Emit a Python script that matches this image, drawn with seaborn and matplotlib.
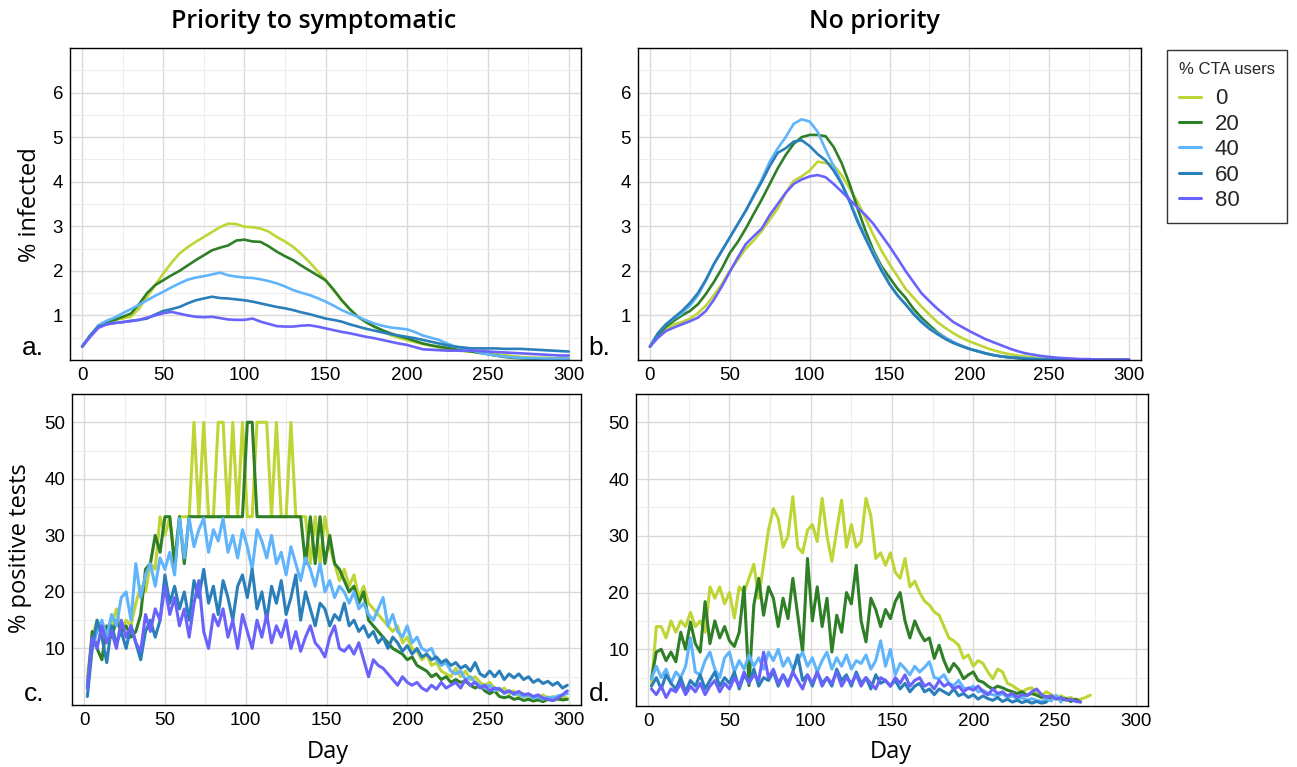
import matplotlib

matplotlib.use("Agg")
import matplotlib.pyplot as plt
import numpy as np
import pandas as pd
import seaborn as sns
from matplotlib.lines import Line2D
from matplotlib.ticker import FixedLocator, MultipleLocator

nan = np.nan

users = ["0", "20", "40", "60", "80"]
colors = ["#bfd435", "#2f7f26", "#5fb4fb", "#2a7fbb", "#6a63fb"]

# days for the % infected panels (every 5 days) and the % positive panels (every 3 days)
top_days = list(range(0, 301, 5))
bottom_days = list(range(2, 300, 3))

# a. priority to symptomatic, % infected
tl_0 = [0.3, 0.55, 0.75, 0.85, 0.9, 0.93, 0.97, 1.15, 1.42, 1.68, 1.94, 2.18, 2.39, 2.53, 2.65, 2.76,
        2.87, 2.98, 3.06, 3.05, 2.99, 2.98, 2.95, 2.88, 2.76, 2.66, 2.54, 2.38, 2.2, 2.0, 1.79,
        1.56, 1.34, 1.14, 0.97, 0.85, 0.75, 0.65, 0.56, 0.5, 0.45, 0.4, 0.36, 0.32, 0.28, 0.25,
        0.22, 0.2, 0.19, 0.17, 0.15, 0.13, 0.11, 0.09, 0.07, 0.06, 0.05, 0.05, 0.04, 0.04, 0.04]
tl_20 = [0.3, 0.55, 0.75, 0.85, 0.9, 0.97, 1.04, 1.25, 1.5, 1.68, 1.79, 1.9, 2.0, 2.12, 2.24, 2.35,
         2.46, 2.52, 2.57, 2.68, 2.7, 2.66, 2.65, 2.55, 2.43, 2.33, 2.24, 2.12, 2.01, 1.9, 1.79,
         1.58, 1.34, 1.14, 0.97, 0.85, 0.75, 0.67, 0.6, 0.54, 0.49, 0.43, 0.37, 0.33, 0.3, 0.27,
         0.24, 0.21, 0.19, 0.16, 0.13, 0.1, 0.07, 0.05, 0.04, 0.03, 0.02, 0.02, 0.02, 0.02, 0.02]
tl_40 = [0.3, 0.55, 0.78, 0.88, 0.95, 1.05, 1.14, 1.24, 1.34, 1.44, 1.53, 1.63, 1.72, 1.8, 1.85, 1.88,
         1.92, 1.96, 1.9, 1.87, 1.85, 1.84, 1.81, 1.77, 1.72, 1.65, 1.57, 1.51, 1.46, 1.39, 1.31,
         1.22, 1.12, 1.04, 0.97, 0.89, 0.82, 0.77, 0.73, 0.71, 0.69, 0.63, 0.55, 0.5, 0.45, 0.37,
         0.3, 0.26, 0.22, 0.17, 0.13, 0.1, 0.08, 0.06, 0.05, 0.04, 0.04, 0.03, 0.03, 0.03, 0.03]
tl_60 = [0.3, 0.55, 0.75, 0.8, 0.83, 0.85, 0.88, 0.9, 0.93, 1.02, 1.1, 1.14, 1.19, 1.27, 1.34, 1.38,
         1.42, 1.39, 1.38, 1.36, 1.34, 1.31, 1.27, 1.23, 1.19, 1.16, 1.12, 1.07, 1.03, 0.98, 0.93,
         0.9, 0.86, 0.8, 0.75, 0.7, 0.66, 0.62, 0.58, 0.55, 0.52, 0.49, 0.45, 0.41, 0.37, 0.33,
         0.3, 0.28, 0.26, 0.26, 0.26, 0.26, 0.25, 0.25, 0.25, 0.24, 0.23, 0.22, 0.21, 0.2, 0.19]
tl_80 = [0.3, 0.52, 0.72, 0.8, 0.83, 0.85, 0.87, 0.9, 0.95, 1.0, 1.05, 1.08, 1.04, 1.0, 0.97, 0.96,
         0.97, 0.94, 0.91, 0.9, 0.9, 0.93, 0.86, 0.81, 0.76, 0.75, 0.75, 0.77, 0.78, 0.75, 0.71,
         0.67, 0.63, 0.6, 0.56, 0.52, 0.49, 0.45, 0.41, 0.37, 0.34, 0.29, 0.24, 0.23, 0.22, 0.21,
         0.21, 0.21, 0.21, 0.2, 0.19, 0.18, 0.17, 0.16, 0.15, 0.14, 0.13, 0.12, 0.11, 0.1, 0.1]

# b. no priority, % infected
tr_0 = [0.3, 0.55, 0.7, 0.8, 0.85, 0.93, 1.05, 1.22, 1.45, 1.7, 2.0, 2.25, 2.5, 2.68, 2.9, 3.15,
        3.4, 3.75, 4.02, 4.12, 4.25, 4.45, 4.42, 4.37, 4.15, 3.85, 3.55, 3.18, 2.8, 2.45, 2.15,
        1.88, 1.6, 1.4, 1.2, 1.02, 0.85, 0.72, 0.6, 0.5, 0.42, 0.35, 0.28, 0.22, 0.17, 0.13,
        0.1, 0.08, 0.06, 0.04, 0.03, 0.02, 0.02, 0.01, 0.01, 0.01, 0.01, 0.01, 0.01, 0.01, 0.01]
tr_20 = [0.3, 0.55, 0.75, 0.88, 1.0, 1.1, 1.25, 1.48, 1.75, 2.05, 2.4, 2.65, 2.95, 3.28, 3.6, 3.95,
         4.3, 4.6, 4.85, 5.0, 5.05, 5.05, 5.02, 4.78, 4.42, 3.95, 3.4, 2.9, 2.45, 2.1, 1.85,
         1.6, 1.4, 1.15, 0.95, 0.78, 0.62, 0.5, 0.4, 0.32, 0.25, 0.2, 0.15, 0.11, 0.08, 0.06,
         0.04, 0.03, 0.02, 0.01, 0.01, 0.01, 0.0, 0.0, 0.0, 0.0, 0.0, 0.0, 0.0, 0.0, 0.0]
tr_40 = [0.3, 0.6, 0.8, 0.93, 1.05, 1.22, 1.45, 1.78, 2.15, 2.45, 2.75, 3.05, 3.35, 3.7, 4.05, 4.45,
         4.75, 5.0, 5.3, 5.4, 5.35, 5.12, 4.72, 4.35, 3.98, 3.58, 3.15, 2.75, 2.4, 2.05, 1.7,
         1.45, 1.25, 1.05, 0.88, 0.72, 0.6, 0.5, 0.4, 0.32, 0.25, 0.2, 0.15, 0.11, 0.08, 0.06,
         0.05, 0.04, 0.03, 0.02, 0.01, 0.01, 0.01, 0.0, 0.0, 0.0, 0.0, 0.0, 0.0, 0.0, 0.0]
tr_60 = [0.3, 0.6, 0.8, 0.95, 1.1, 1.28, 1.5, 1.8, 2.15, 2.45, 2.75, 3.05, 3.35, 3.68, 4.0, 4.35,
         4.65, 4.75, 4.9, 4.93, 4.8, 4.62, 4.48, 4.25, 3.95, 3.55, 3.1, 2.72, 2.35, 2.0, 1.7,
         1.45, 1.25, 1.03, 0.85, 0.7, 0.58, 0.47, 0.38, 0.31, 0.25, 0.2, 0.15, 0.11, 0.08, 0.06,
         0.05, 0.03, 0.02, 0.01, 0.01, 0.0, 0.0, 0.0, 0.0, 0.0, 0.0, 0.0, 0.0, 0.0, 0.0]
tr_80 = [0.3, 0.5, 0.65, 0.73, 0.8, 0.87, 0.95, 1.1, 1.35, 1.65, 1.98, 2.3, 2.6, 2.78, 2.95, 3.25,
         3.5, 3.75, 3.95, 4.05, 4.12, 4.15, 4.1, 3.95, 3.78, 3.6, 3.42, 3.25, 3.05, 2.8, 2.55,
         2.28, 2.0, 1.75, 1.5, 1.32, 1.15, 1.0, 0.85, 0.75, 0.65, 0.56, 0.47, 0.4, 0.33, 0.26,
         0.2, 0.15, 0.12, 0.09, 0.07, 0.05, 0.04, 0.03, 0.02, 0.02, 0.01, 0.01, 0.01, 0.01, 0.01]

# c. priority to symptomatic, % positive tests
bl_0 = [5, 12, 15, 13, 11, 14, 17, 13, 15, 14,
        18, 21, 20, 25, 24, 33.3, 30, 33.3, 25, 33.3,
        33.3, 33.3, 50, 33.3, 50, 33.3, 33.3, 50, 50, 33.3,
        50, 33.3, 50, 33.3, 33.3, 50, 50, 50, 33.3, 50,
        33.3, 33.3, 50, 33.3, 33.3, 33.3, 25, 33.3, 25, 33.3,
        28, 25, 22, 24, 21, 23, 19, 21, 18, 17,
        16, 15, 14, 13, 14, 11, 12, 10, 9.5, 8,
        9, 7, 7.5, 6, 5.5, 5, 6.5, 5, 6, 4.5,
        5, 4, 3.5, 4, 3, 2.5, 3, 2, 2.5, 1.5,
        2, 1.2, 1.5, 1, 1.8, 1.2, 1.5, 1, 1.4, 1.2]
bl_20 = [3, 13, 10, 8, 14, 12, 15, 13, 14, 12,
         13, 16, 24, 25, 30, 27, 33.3, 33.3, 25, 33.3,
         25, 33.3, 33.3, 33.3, 33.3, 33.3, 33.3, 33.3, 33.3, 33.3,
         33.3, 33.3, 33.3, 50, 50, 33.3, 33.3, 33.3, 33.3, 33.3,
         33.3, 33.3, 33.3, 33.3, 33.3, 25, 33.3, 25, 33.3, 25,
         30, 25, 24, 22, 20, 21, 18, 20, 15, 14,
         13, 12, 11, 10, 9.5, 9, 8, 8.5, 7, 6.5,
         6, 5, 5.5, 4.5, 5, 4, 4.5, 4, 4.2, 3.5,
         3, 3.5, 2.5, 2, 2.5, 1.5, 1.3, 1.5, 1, 1.2,
         0.8, 1, 0.7, 0.9, 0.6, 1, 0.8, 1.1, 0.9, 1]
bl_40 = [4, 10, 13, 15, 12, 16, 14, 19, 20, 15,
         25, 19, 23, 25, 21, 26, 24, 27, 23, 33,
         26, 33, 28, 31, 33, 27, 31, 29, 33, 27,
         30, 26, 31, 28, 24, 31, 29, 26, 30, 25,
         27, 23, 28, 25, 22, 26, 24, 21, 25, 20,
         22, 19, 21, 20, 18, 20, 17, 18, 16, 15,
         17, 19, 14, 16, 13, 12, 14, 11, 12, 10,
         9.5, 10, 8, 7, 7.5, 6, 5.5, 6, 4.5, 5,
         4, 3.5, 3, 3.5, 2.5, 3, 2, 2.5, 1.8, 2,
         1.5, 1.8, 1.2, 1.5, 1, 1.4, 1.2, 1.6, 1.8, 2]
bl_60 = [1.5, 10, 15, 12, 7.5, 14, 11, 13, 10, 14,
         11, 8, 13, 15, 12, 15, 23, 18, 21, 17,
         20, 15, 22, 19, 24, 18, 21, 16, 22, 19,
         15, 21, 23, 19, 24, 17, 20, 15, 21, 18,
         22, 16, 19, 23, 15, 20, 17, 14, 18, 17,
         14, 16, 15, 18, 14, 15, 13, 14, 12, 13,
         11, 12, 10, 12, 11, 9.5, 10.5, 9, 10, 8.5,
         9, 8, 8.5, 7.5, 8, 7, 7.5, 6.5, 7, 6,
         7.5, 5.5, 5, 6, 5, 6, 4.5, 5.5, 4.8, 5.5,
         4.5, 5, 4, 4.5, 3.8, 4.2, 3.5, 4, 3, 3.5]
bl_80 = [3, 12, 10, 14, 11, 13, 10, 15, 12, 14,
         11, 9.5, 16, 13, 17, 15, 21, 16, 19, 14,
         17, 12, 18, 22, 13, 10, 16, 14, 17, 12,
         15, 10, 16, 13, 10, 15, 12, 16, 11, 14,
         12, 15, 10, 13, 9.5, 12, 14, 11, 10, 8.5,
         12, 14, 10, 9.5, 10.5, 9, 11, 8, 5, 8,
         7, 6.5, 5.5, 4.5, 3.5, 5, 4, 3.5, 4, 3,
         2.5, 3.5, 2.8, 4, 3, 3.5, 4, 3, 4.5, 3.5,
         4, 3, 3.5, 2.5, 3, 2.8, 2.2, 2.5, 2, 2.4,
         1.8, 2, 1.5, 1.8, 1.2, 1, 0.8, 1.2, 1.8, 2.5]

# d. no priority, % positive tests
br_0 = [3.5, 14, 14, 12, 15, 13, 15, 14, 16.5, 14,
        15, 13, 21, 19, 21, 18, 20, 15.5, 21, 20,
        22.5, 25, 19, 25, 31, 34.8, 33, 28, 30, 36.9,
        28, 27, 31, 32, 29, 36.6, 30, 25.5, 31, 36.3,
        28, 32, 28, 29, 36.6, 33.5, 26, 27, 24.8, 27,
        23.6, 22.5, 26, 21, 22, 20, 18.5, 17.8, 16.6, 16,
        14, 12, 11.5, 10.7, 8.4, 9, 7, 8, 7.5, 6,
        4.8, 6.5, 6, 4, 3.6, 3, 2.5, 3, 3.2, 2.2,
        1.9, 2.5, 2, 1.5, 1.8, 1.3, 1.5, 1, 1.2, 1.5,
        1.9, nan, nan, nan, nan, nan, nan, nan, nan, nan]
br_20 = [4.8, 9.5, 10, 8, 9.5, 7.8, 13, 10, 14.8, 11,
         9.5, 18.4, 11, 15, 12, 14, 11.5, 10.5, 13, 21,
         3.6, 17.8, 22.5, 16, 21, 19, 14, 19, 15.4, 22.5,
         16, 9.5, 26, 15, 21, 14, 19, 9.5, 16, 13,
         20, 18, 24.8, 15, 11.3, 19, 17, 14, 17, 15.4,
         18.4, 20, 15, 12, 15, 13, 11.5, 12, 8.4, 10.7,
         8, 6, 7.5, 6.5, 4.8, 5.5, 6, 4.5, 4.2, 3.5,
         3, 3.5, 3.2, 2.8, 2.5, 2.2, 2.5, 1.9, 2.2, 1.9,
         1.5, 1.7, 1.3, 1.5, 1, 1.3, 0.8, 1.2, 0.7, nan,
         nan, nan, nan, nan, nan, nan, nan, nan, nan, nan]
br_40 = [4.8, 7, 5, 6.5, 4, 6, 5, 7, 12, 6,
         5.5, 8, 9.5, 6.5, 5, 8.5, 9.5, 6, 8, 6.5,
         9, 7, 8.5, 6.5, 9.5, 8, 10, 7, 8.5, 6.5,
         8, 9.5, 7, 8.5, 6, 8, 9.5, 6.5, 8.5, 7,
         9, 6.5, 8, 7.5, 9, 6.5, 8, 11.5, 7, 10,
         5.5, 7.5, 6.6, 5.5, 7, 6, 6.8, 7.8, 5, 4.8,
         5.5, 4, 3.6, 4.5, 3.2, 3, 3.5, 2.5, 2.8, 2.2,
         2, 1.8, 2.2, 1.5, 1.8, 1.2, 1.5, 1, 1.3, 1,
         0.8, 1.1, 0.9, 1.9, 0.7, nan, nan, nan, nan, nan,
         nan, nan, nan, nan, nan, nan, nan, nan, nan, nan]
br_60 = [3.5, 5, 3, 5.5, 4, 3, 5, 2.5, 4.5, 3.5,
         5.5, 3, 4.5, 6, 3.5, 5, 4, 6, 3, 5.5,
         4, 6.5, 3.5, 5, 4.5, 6, 3.5, 5.5, 4, 6,
         9, 4.5, 5.5, 3.5, 6, 4, 5, 3.5, 6.5, 4.5,
         5.5, 3.5, 6, 4, 5, 3, 5.5, 4, 4.5, 3.5,
         4.5, 3, 4, 2.5, 3.5, 4, 2.5, 3, 2, 3,
         2.5, 2, 3, 1.8, 2.2, 1.5, 2, 1.2, 1.8, 1.3,
         1, 1.5, 0.8, 1.2, 0.7, 1, 0.6, 0.9, 0.5, 0.8,
         0.5, 0.7, nan, nan, nan, nan, nan, nan, nan, nan,
         nan, nan, nan, nan, nan, nan, nan, nan, nan, nan]
br_80 = [3, 2, 3.5, 1.5, 3, 2.5, 4, 2, 3.5, 2.5,
         4, 2, 3.5, 4.5, 2.5, 4, 3, 5, 3.5, 6,
         4, 5.5, 4.5, 9.5, 5, 6.5, 4, 5.5, 3.5, 6,
         4.5, 3, 5.5, 4, 6, 3.5, 5, 4, 6, 3.5,
         5, 4, 5.5, 3.5, 5, 4, 3, 5, 4.5, 3.5,
         5, 4, 5.5, 3.5, 4.5, 5, 3.5, 4, 3, 4.5,
         3.5, 4, 3, 3.5, 2.5, 3.2, 2.8, 3.5, 2.5, 2,
         3, 2.2, 2.5, 1.8, 2.2, 1.5, 2, 1.8, 2.5, 3,
         2, 1.5, 1.8, 1.2, 1.5, 1, 1.2, 0.8, 0.7, nan,
         nan, nan, nan, nan, nan, nan, nan, nan, nan, nan]


def long_frame(days, series):
    frames = []
    for label, values in zip(users, series):
        frames.append(pd.DataFrame({"Day": days, "value": values, "users": label}))
    return pd.concat(frames, ignore_index=True)


sns.set_style("whitegrid")
plt.rcParams["font.family"] = ["Liberation Sans", "DejaVu Sans"]

W, H = 1297, 767
fig = plt.figure(figsize=(W / 100, H / 100), dpi=100)


def add_axes(left, top, right, bottom):
    return fig.add_axes([left / W, 1 - bottom / H, (right - left) / W, (bottom - top) / H])


ax_tl = add_axes(70, 48, 581, 360)
ax_tr = add_axes(638, 48, 1141, 360)
ax_bl = add_axes(72, 394, 581, 705)
ax_br = add_axes(636, 394, 1148, 706)

panels = [
    (ax_tl, long_frame(top_days, [tl_0, tl_20, tl_40, tl_60, tl_80]), 7, [1, 2, 3, 4, 5, 6], 0.5, 1.9),
    (ax_tr, long_frame(top_days, [tr_0, tr_20, tr_40, tr_60, tr_80]), 7, [1, 2, 3, 4, 5, 6], 0.5, 1.9),
    (ax_bl, long_frame(bottom_days, [bl_0, bl_20, bl_40, bl_60, bl_80]), 55, [10, 20, 30, 40, 50], 5, 2.2),
    (ax_br, long_frame(bottom_days, [br_0, br_20, br_40, br_60, br_80]), 55, [10, 20, 30, 40, 50], 5, 2.2),
]

for ax, df, ymax, yticks, yminor, lw in panels:
    sns.lineplot(data=df, x="Day", y="value", hue="users", hue_order=users, palette=colors,
                 estimator=None, sort=False, linewidth=lw, legend=False, ax=ax)
    ax.set_xlim(-7.5, 307.5)
    ax.set_ylim(0, ymax)
    ax.xaxis.set_major_locator(MultipleLocator(50))
    ax.xaxis.set_minor_locator(MultipleLocator(25))
    ax.yaxis.set_major_locator(FixedLocator(yticks))
    ax.yaxis.set_minor_locator(MultipleLocator(yminor))
    ax.grid(which="major", color="#d9d9d9", linewidth=1.0)
    ax.grid(which="minor", color="#ededed", linewidth=0.8)
    ax.set_axisbelow(True)
    ax.tick_params(which="both", length=0, labelsize=13.5, pad=5, colors="black")
    for spine in ax.spines.values():
        spine.set_color("black")
        spine.set_linewidth(1.0)
    ax.set_xlabel("")
    ax.set_ylabel("")

open_sans = {"family": ["Open Sans", "DejaVu Sans"], "color": "black"}
fig.text(314 / W, 1 - 22 / H, "Priority to symptomatic", ha="center", va="center",
         fontsize=18, fontweight="semibold", **open_sans)
fig.text(874 / W, 1 - 22 / H, "No priority", ha="center", va="center",
         fontsize=18, fontweight="semibold", **open_sans)
fig.text(30 / W, 1 - 205 / H, "% infected", rotation=90, ha="center", va="center",
         fontsize=17, **open_sans)
fig.text(20 / W, 1 - 548 / H, "% positive tests", rotation=90, ha="center", va="center",
         fontsize=17, **open_sans)
fig.text(328 / W, 1 - 752 / H, "Day", ha="center", va="center", fontsize=17, **open_sans)
fig.text(891 / W, 1 - 752 / H, "Day", ha="center", va="center", fontsize=17, **open_sans)
for letter, x, y in [("a.", 33, 348), ("b.", 599, 348), ("c.", 34, 694), ("d.", 600, 694)]:
    fig.text(x / W, 1 - y / H, letter, ha="center", va="center", fontsize=19, color="black")

handles = [Line2D([], [], color=c, linewidth=2.2) for c in colors]
leg = fig.legend(handles, users, title="% CTA users", loc="upper left",
                 bbox_to_anchor=(1167 / W, 1 - 50 / H), borderaxespad=0,
                 fontsize=16, title_fontsize=12, frameon=True, fancybox=False,
                 handlelength=1.0, handletextpad=0.6, labelspacing=0.2,
                 borderpad=0.55)
leg.get_frame().set_edgecolor("black")
leg.get_frame().set_linewidth(1.0)
leg._legend_box.align = "left"
leg._legend_box.sep = 8

fig.savefig("out.png", dpi=100)
